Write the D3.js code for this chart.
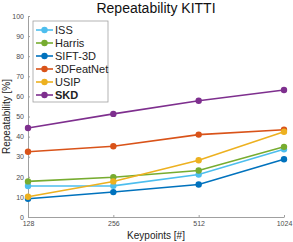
<!DOCTYPE html>
<html>
<head>
<meta charset="utf-8">
<script src="https://cdn.jsdelivr.net/npm/d3@7"></script>
<style>
  body { margin: 0; background: #fff; }
  text { font-family: "Liberation Sans", Arial, sans-serif; }
</style>
</head>
<body>
<div id="chart"></div>
<script>
var svgWidth = 293;
var svgHeight = 242;

var margin = { top: 16, right: 9, bottom: 25, left: 28 };
var width = svgWidth - margin.left - margin.right;
var height = svgHeight - margin.top - margin.bottom;

var keypoints = [128, 256, 512, 1024];
var yTicks = [0, 10, 20, 30, 40, 50, 60, 70, 80, 90, 100];

var names = ["ISS", "Harris", "SIFT-3D", "3DFeatNet", "USIP", "SKD"];
var colors = ["#4DBEEE", "#77AC30", "#0072BD", "#D95319", "#EDB120", "#7E2F8E"];

var iss = [15.4, 15.5, 21.1, 33.7];
var harris = [17.7, 19.8, 23.1, 34.9];
var sift = [9.1, 12.4, 16.2, 28.7];
var featnet = [32.5, 35.2, 41.0, 43.4];
var usip = [10.1, 17.7, 28.2, 42.4];
var skd = [44.3, 51.3, 57.8, 63.2];

var series = [iss, harris, sift, featnet, usip, skd];

var svg = d3.select("#chart")
  .append("svg")
  .attr("width", svgWidth)
  .attr("height", svgHeight);

var chartGroup = svg.append("g")
  .attr("transform", `translate(${margin.left}, ${margin.top})`);

var x = d3.scaleLog().base(2)
  .domain([128, 1024])
  .range([0, width]);

var y = d3.scaleLinear()
  .domain([0, 100])
  .range([height, 0]);

var xAxis = chartGroup.append("g")
  .attr("transform", `translate(0, ${height})`)
  .call(d3.axisBottom(x).tickValues(keypoints).tickFormat(d3.format("d")).tickSizeInner(-2).tickSizeOuter(0).tickPadding(4));

var yAxis = chartGroup.append("g")
  .call(d3.axisLeft(y).tickValues(yTicks).tickSizeInner(-2).tickSizeOuter(0).tickPadding(4));

[xAxis, yAxis].forEach(a => {
  a.select(".domain").attr("stroke", "#a0a0a0");
  a.selectAll(".tick line").attr("stroke", "#a0a0a0");
  a.selectAll(".tick text").attr("fill", "#4d4d4d").attr("font-size", "7px");
});

var line = d3.line()
  .x((d, i) => x(keypoints[i]))
  .y(d => y(d));

series.forEach((s, k) => {
  chartGroup.append("path")
    .datum(s)
    .attr("d", line)
    .attr("fill", "none")
    .attr("stroke", colors[k])
    .attr("stroke-width", 1.6);
  chartGroup.selectAll(".pt" + k)
    .data(s)
    .enter()
    .append("circle")
    .attr("cx", (d, i) => x(keypoints[i]))
    .attr("cy", d => y(d))
    .attr("r", 3.2)
    .attr("fill", colors[k]);
});

// legend
var legend = svg.append("g").attr("transform", "translate(33, 21)");
legend.append("rect")
  .attr("width", 75)
  .attr("height", 81)
  .attr("fill", "#fff")
  .attr("stroke", "#a0a0a0")
  .attr("stroke-width", 0.8);

names.forEach((n, k) => {
  var yy = 9 + k * 13;
  legend.append("line")
    .attr("x1", 3).attr("x2", 20)
    .attr("y1", yy).attr("y2", yy)
    .attr("stroke", colors[k])
    .attr("stroke-width", 1.6);
  legend.append("circle")
    .attr("cx", 11.5).attr("cy", yy).attr("r", 3.2)
    .attr("fill", colors[k]);
  legend.append("text")
    .attr("x", 22).attr("y", yy + 4)
    .attr("font-size", "11px")
    .attr("font-weight", n == "SKD" ? "bold" : "normal")
    .attr("fill", "#222")
    .text(n);
});

svg.append("text")
  .attr("x", margin.left + width / 2)
  .attr("y", 13)
  .attr("text-anchor", "middle")
  .attr("font-size", "14px")
  .attr("fill", "#111")
  .text("Repeatability KITTI");

svg.append("text")
  .attr("x", margin.left + width / 2)
  .attr("y", 239)
  .attr("text-anchor", "middle")
  .attr("font-size", "10px")
  .attr("fill", "#222")
  .text("Keypoints [#]");

svg.append("text")
  .attr("transform", `translate(10, ${margin.top + height / 2}) rotate(-90)`)
  .attr("text-anchor", "middle")
  .attr("font-size", "10px")
  .attr("fill", "#222")
  .text("Repeatability [%]");
</script>
</body>
</html>
